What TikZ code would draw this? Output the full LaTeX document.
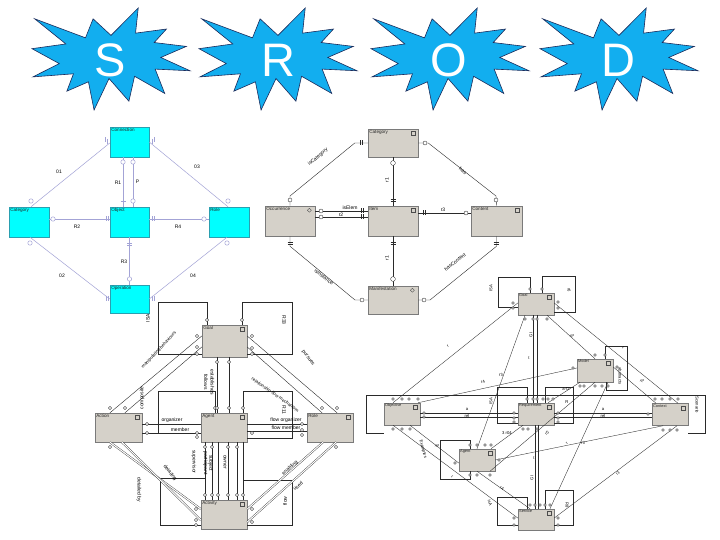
\documentclass[tikz,border=0pt]{standalone}
\usepackage{fontspec}
\setmainfont{Liberation Sans}
\usetikzlibrary{calc}
\definecolor{starfill}{HTML}{12AEEF}
\definecolor{starline}{HTML}{1B2A5A}
\definecolor{cyanbox}{HTML}{00FFFF}
\definecolor{cyanedge}{HTML}{2A9FB0}
\definecolor{lav}{HTML}{A3A3D6}
\definecolor{gfill}{HTML}{D5D1C9}
\definecolor{gedge}{HTML}{7A7A7A}
\definecolor{ink}{HTML}{2A2A2A}
\newcommand\boom[4]{\draw[starst, shift={(#1,#2)}, xscale=#3/216, yscale=#4/216]
 (108,58) -- (145.22,0) -- (141.55,53.25) -- (183.80,44.57) -- (167.02,73.15) -- (210.97,81.37) -- (176.07,104.75) -- (216,132.90) -- (168.37,129.42) -- (181.45,180.95) -- (140.20,144.57) -- (132.47,197.37) -- (105.32,149.35) -- (84.85,216) -- (77.15,156.27) -- (47.62,176.17) -- (56.67,139.37) -- (1.35,145.87) -- (37.22,117.75) -- (0,86.15) -- (46.27,76.17) -- (3.70,22.95) -- (73.12,63.20) -- (83.52,22.95) -- cycle;}
\newcommand\sqi[1]{\draw[ico] ([xshift=-7pt,yshift=-2.5pt]#1.north east) rectangle ++(4,4);}
\newcommand\dmi[1]{\draw[ico] ([xshift=-6pt,yshift=-2.5pt]#1.north east) -- ++(2,2) -- ++(-2,2) -- ++(-2,-2) -- cycle;}
\begin{document}
\begin{tikzpicture}[x=1pt,y=-1pt,
 starst/.style={fill=starfill, draw=starline, line width=0.6pt, line join=miter},
 sletter/.style={text=white, font=\fontsize{47}{47}\selectfont, inner sep=0pt},
 cbox/.style={draw=cyanedge, fill=cyanbox, line width=0.5pt, inner sep=0pt},
 gbox/.style={draw=gedge, fill=gfill, line width=0.5pt, inner sep=0pt},
 btxt/.style={anchor=north west, inner sep=1.4pt, font=\fontsize{4.6}{5}\selectfont, text=black!85},
 dtxt/.style={anchor=north west, inner sep=1.2pt, font=\fontsize{3.9}{4.2}\selectfont, text=black!85},
 lab/.style={inner sep=0.3pt, font=\fontsize{5}{5.4}\selectfont, text=black},
 slab/.style={inner sep=0.3pt, font=\fontsize{4.2}{4.5}\selectfont, text=black},
 lavl/.style={draw=lav, line width=0.5pt},
 ln/.style={draw=ink, line width=0.4pt},
 dl/.style={draw=ink, line width=0.35pt},
 dbl/.style={draw=ink, line width=0.35pt, double=white, double distance=1.1pt},
 mk/.style={draw=ink, fill=white, line width=0.35pt},
 lmk/.style={draw=lav, fill=white, line width=0.5pt},
 ico/.style={draw=black!70, line width=0.35pt, fill=gfill}]
\useasboundingbox (0,0) rectangle (720,540);
\fill[white] (0,0) rectangle (720,540);

% ---------- stars ----------
\boom{32}{8}{158}{102}
\boom{199}{8}{158}{102}
\boom{371}{8}{158}{102}
\boom{540}{8}{158}{102}
\node[sletter] (ls) at (110,60) {S};
\node[sletter] (lr) at (278,60) {R};
\node[sletter] (lo) at (449,60) {O};
\node[sletter] (ld) at (618,60) {D};

% ---------- S diagram ----------
\node[cbox, minimum width=39pt, minimum height=30pt] (sconn) at (129.5,142) {};
\node[cbox, minimum width=40pt, minimum height=30pt] (scat) at (29,222) {};
\node[cbox, minimum width=39pt, minimum height=30pt] (sobj) at (129.5,222) {};
\node[cbox, minimum width=40pt, minimum height=30pt] (srole) at (229,222) {};
\node[cbox, minimum width=39pt, minimum height=28pt] (sop) at (129.5,299) {};
\node[btxt] (sconnt) at (sconn.north west) {Connection};
\node[btxt] (scatt) at (scat.north west) {Category};
\node[btxt] (sobjt) at (sobj.north west) {Object};
\node[btxt] (srolet) at (srole.north west) {Role};
\node[btxt] (sopt) at (sop.north west) {Operation};
\draw[lavl] ([yshift=-1pt]sconn.west) -- ([xshift=2pt]scat.north);
\draw[lavl] (sconn.east) -- ([xshift=-1pt]srole.north);
\draw[lavl] ([xshift=-6.5pt]sconn.south) -- ([xshift=-6.5pt]sobj.north);
\draw[lavl] ([xshift=3.5pt]sconn.south) -- ([xshift=3.5pt]sobj.north);
\draw[lavl] ([yshift=3pt]scat.east) -- ([yshift=3pt]sobj.west);
\draw[lavl] ([yshift=3pt]sobj.east) -- ([yshift=3pt]srole.west);
\draw[lavl] (sobj.south) -- (sop.north);
\draw[lavl] ([xshift=1pt]scat.south) -- (sop.west);
\draw[lavl] ([xshift=-2pt]srole.south) -- (sop.east);
\foreach \x/\y in {31/201,228/201,123/162,133/162,133/201,53/219,204/219,129.5/279,30/243,227/243}
  \draw[lmk] (\x,\y) circle[radius=2.2];
\foreach \x/\y in {105/140,107/141.5,154/140,152/141.5,106/219,108/219,152/219,154/219,106/298,108/298,152/298,154/298}
  \draw[lavl] (\x,\y-2.5) -- (\x,\y+2.5);
\foreach \x/\y in {123/201,129.5/243,129.5/245}
  \draw[lavl] (\x-2.5,\y) -- (\x+2.5,\y);
\node[lab] (s1) at (59,172) {01};
\node[lab] (s2) at (197,167) {03};
\node[lab] (s3) at (118,183) {R1};
\node[lab] (s4) at (137.5,182) {P};
\node[lab] (s5) at (77,227) {R2};
\node[lab] (s6) at (178,227) {R4};
\node[lab] (s7) at (124,262) {R3};
\node[lab] (s8) at (62,276) {02};
\node[lab] (s9) at (193,276) {04};

% ---------- R diagram ----------
\node[gbox, minimum width=50pt, minimum height=28pt] (rcat) at (393,143) {};
\node[gbox, minimum width=50pt, minimum height=30pt] (ritem) at (393,221) {};
\node[gbox, minimum width=50pt, minimum height=30pt] (rocc) at (290,221) {};
\node[gbox, minimum width=51pt, minimum height=30pt] (rcont) at (496.5,221) {};
\node[gbox, minimum width=50pt, minimum height=28pt] (rman) at (393,300) {};
\node[btxt] (rcatt) at (rcat.north west) {Category};
\node[btxt] (ritemt) at (ritem.north west) {Item};
\node[btxt] (rocct) at (rocc.north west) {Occurrence};
\node[btxt] (rcontt) at (rcont.north west) {Content};
\node[btxt] (rmant) at (rman.north west) {Manifestation};
\sqi{rcat}\sqi{ritem}\sqi{rcont}\dmi{rocc}\dmi{rman}
\draw[ln] (rcat.west) -- ++(-13,0) -- (290,196) -- (rocc.north);
\draw[ln] (rcat.east) -- ++(10,0) -- (496,196) -- (rcont.north);
\draw[ln] (rcat.south) -- (ritem.north);
\draw[ln, line width=0.7pt] ([yshift=10pt]rocc.east) -- ([yshift=10pt]ritem.west);
\draw[ln, line width=0.7pt] ([yshift=4pt]rocc.east) -- ([yshift=4pt]ritem.west);
\draw[ln] ([yshift=8pt]ritem.east) -- ([yshift=8pt]rcont.west);
\draw[ln] (ritem.south) -- (rman.north);
\draw[ln] (rocc.south) -- ++(0,10) -- (355,300) -- (rman.west);
\draw[ln] (rcont.south) -- ++(0,10) -- (430,300) -- (rman.east);
\foreach \x/\y in {290/200,496/200,425/143,321/211,321/217,466/213,362/300,424/300}
  \draw[mk] (\x,\y) circle[radius=2];
\draw[mk] (393,163) circle[radius=2.4];
\draw[mk] (393,279) circle[radius=2.4];
\foreach \x/\y in {360/143,362/143,361/211,363/211,361/217,363/217,423/213,425/213}
  \draw[ln] (\x,\y-2.5) -- (\x,\y+2.5);
\foreach \x/\y in {393/199,393/201,393/242,393/244,290/242,290/244,496/242,496/244}
  \draw[ln] (\x-2.5,\y) -- (\x+2.5,\y);
\node[lab, rotate=40] (r1) at (318,157) {isCategory};
\node[lab, rotate=-38] (r2) at (463,171) {has};
\node[lab, rotate=90] (r3) at (387,180) {r1};
\node[lab] (r4) at (350,208) {isElem};
\node[lab] (r5) at (341,214.5) {r2};
\node[lab] (r6) at (443,209.5) {r3};
\node[lab, rotate=90] (r7) at (387,258) {r1};
\node[lab, rotate=-38] (r8) at (324,277) {isInstance};
\node[lab, rotate=38] (r9) at (455,262) {hasContent};

% ---------- O diagram ----------
\node[gbox, minimum width=45pt, minimum height=32pt] (ogoal) at (224.5,341) {};
\node[gbox, minimum width=47pt, minimum height=29pt] (oact) at (118.5,427.5) {};
\node[gbox, minimum width=46pt, minimum height=29pt] (oagt) at (224,427.5) {};
\node[gbox, minimum width=46pt, minimum height=29pt] (orole) at (330,427.5) {};
\node[gbox, minimum width=46pt, minimum height=29pt] (oactv) at (224,514.5) {};
\node[btxt] (ogoalt) at (ogoal.north west) {Goal};
\node[btxt] (oactt) at (oact.north west) {Action};
\node[btxt] (oagtt) at (oagt.north west) {Agent};
\node[btxt] (orolet) at (orole.north west) {Role};
\node[btxt] (oactvt) at (oactv.north west) {Activity};
\sqi{ogoal}\sqi{oact}\sqi{oagt}\sqi{orole}\sqi{oactv}
% loops
\draw[ln] ([xshift=-17.5pt]ogoal.north) -- (207,302) -- (158,302) -- (158,354) -- (ogoal.west |- 0,354);
\draw[ln] ([xshift=17.5pt]ogoal.north) -- (242,302) -- (292,302) -- (292,354) -- (ogoal.east |- 0,354);
\draw[ln] ([xshift=-9pt]oagt.north) -- (215,391) -- (158,391) -- (158,433) -- (oact.east |- 0,433);
\draw[ln] ([xshift=19pt]oagt.north) -- (243,391) -- (292,391) -- (292,438) -- (oagt.east |- 0,438);
\draw[ln] (oactv.west |- 0,525) -- (160,525) -- (160,478) -- (205,478);
\draw[ln] (243,480) -- (292,480) -- (292,525) -- (oactv.east |- 0,525);
% goal links
\draw[ln] (ogoal.west |- 0,336) -- ([xshift=-8.5pt]oact.north);
\draw[ln] (ogoal.west |- 0,347) -- ([xshift=6.5pt]oact.north);
\draw[ln] ([xshift=-7.5pt]ogoal.south) -- ([xshift=-7pt]oagt.north);
\draw[ln] ([xshift=4.5pt]ogoal.south) -- ([xshift=5pt]oagt.north);
\draw[ln] (ogoal.east |- 0,336) -- ([xshift=7pt]orole.north);
\draw[ln] (ogoal.east |- 0,347) -- ([xshift=-8pt]orole.north);
% row links
\draw[ln] (oact.east |- 0,424) -- (oagt.west |- 0,424);
\draw[ln, line width=0.6pt] (oact.east |- 0,433) -- (oagt.west |- 0,433);
\draw[ln] (oagt.east |- 0,424) -- (orole.west |- 0,424);
\draw[ln, line width=0.6pt] (oagt.east |- 0,431) -- (orole.west |- 0,431);
% agent to activity
\foreach \dx in {-19,-12,-6,4,13,19}
  \draw[ln] ([xshift=\dx pt]oagt.south) -- ([xshift=\dx pt]oactv.north);
% diagonals
\draw[dbl] ([xshift=-8.5pt]oact.south) -- (oactv.west |- 0,509);
\draw[dbl] ([xshift=3.5pt]oact.south) -- (oactv.west |- 0,520);
\draw[dbl] ([xshift=-7pt]orole.south) -- (oactv.east |- 0,509);
\draw[dbl] ([xshift=6pt]orole.south) -- (oactv.east |- 0,522);
\foreach \x/\y in {207/320,242/320,197/336,197/347,197/354,252/336,252/348,252/354,217/362,229/362,
  215/408,217/408,229/408,243/408,110/408,125/408,147/424,147/433,197/433,197/437,252/433,
  302/424,302/430,302/435,322/408,337/408,336/447,110/447,205/447,212/447,228/447,237/447,
  205/495,212/495,218/495,228/495,237/495,243/495,196/509,196/520,196/525,252/509,252/522}
  \draw[mk] (\x,\y) circle[radius=1.7];
\node[lab, rotate=90] (o1) at (148,318) {ISA};
\node[lab, rotate=-90] (o2) at (284,320) {R33};
\node[lab, rotate=47, font=\fontsize{4.5}{5}\selectfont] (o3) at (159,350) {manipulating behaviours};
\node[lab, rotate=90] (o4) at (142,398) {composite};
\node[lab, rotate=-90] (o5) at (206,382) {follows};
\node[lab, rotate=-90] (o6) at (212.5,382) {establishes};
\node[lab, rotate=-53] (o7) at (308,358) {pursues};
\node[lab, rotate=-35, font=\fontsize{4.5}{5}\selectfont] (o8) at (275,395) {relationship flow mechanism};
\node[lab, rotate=-90] (o9) at (284,410) {R11};
\node[lab] (o10) at (172,420.5) {organizer};
\node[lab] (o11) at (180,429.5) {member};
\node[lab] (o12) at (286,420.5) {flow organizer};
\node[lab] (o13) at (286,428) {flow member};
\node[lab, rotate=-90] (o14) at (194,462) {supervisor};
\node[lab, rotate=-90, align=center] (o15) at (208,463) {subject\\participant};
\node[lab, rotate=-90] (o16) at (225,462) {owner};
\node[lab, rotate=-52] (o17) at (170,473) {detailing};
\node[lab, rotate=-90] (o18) at (139,490) {detailed by};
\node[lab, rotate=40] (o19) at (290,468) {enabling};
\node[lab, rotate=40] (o20) at (298,486) {used};
\node[lab, rotate=90] (o21) at (285,501) {flow};

% ---------- D diagram ----------
\node[gbox, minimum width=36pt, minimum height=22pt] (dgoal) at (536,304) {};
\node[gbox, minimum width=36pt, minimum height=23pt] (dmodel) at (595,370.5) {};
\node[gbox, minimum width=36pt, minimum height=22pt] (dobj) at (402,414) {};
\node[gbox, minimum width=36pt, minimum height=22pt] (dreq) at (536,414) {};
\node[gbox, minimum width=36pt, minimum height=22pt] (dcont) at (670,414.5) {};
\node[gbox, minimum width=36pt, minimum height=22pt] (dagt) at (477,460) {};
\node[gbox, minimum width=36pt, minimum height=21pt] (dserv) at (536,519.5) {};
\node[dtxt] (dgoalt) at (dgoal.north west) {Goal};
\node[dtxt] (dmodelt) at (dmodel.north west) {Model};
\node[dtxt] (dobjt) at (dobj.north west) {Objective};
\node[dtxt] (dreqt) at (dreq.north west) {Requirement};
\node[dtxt] (dcontt) at (dcont.north west) {Context};
\node[dtxt] (dagtt) at (dagt.north west) {Agent};
\node[dtxt] (dservt) at (dserv.north west) {Service};
\sqi{dgoal}\sqi{dmodel}\sqi{dobj}\sqi{dreq}\sqi{dcont}\sqi{dagt}\sqi{dserv}
% frame
\draw[dl] (dobj.south west |- 0,433) -- (366,433) -- (366,395) -- (705,395) -- (705,433) -- (dcont.south east |- 0,433);
% loops
\draw[dl] ([xshift=-6pt]dgoal.north) -- (530,277) -- (498,277) -- (498,307) -- (dgoal.west |- 0,307);
\draw[dl] ([xshift=6pt]dgoal.north) -- (542,276) -- (575,276) -- (575,312) -- (dgoal.east |- 0,312);
\draw[dl] ([xshift=10pt]dmodel.north) -- (605,346) -- (627,346) -- (627,390) -- (606,390) -- ([xshift=11pt]dmodel.south);
\draw[dl] ([xshift=-9pt]dreq.north) -- (527,387) -- (497,387) -- (497,423) -- (dreq.west |- 0,423);
\draw[dl] ([xshift=9pt]dreq.north) -- (545,387) -- (573,387) -- (573,423) -- (dreq.east |- 0,423);
\draw[dl] ([xshift=-7pt]dagt.north) -- (470,440) -- (440,440) -- (440,479) -- (470,479) -- ([xshift=-7pt]dagt.south);
\draw[dl] ([xshift=-9pt]dserv.north) -- (527,497) -- (497,497) -- (497,525) -- (dserv.west |- 0,525);
\draw[dl] ([xshift=9pt]dserv.north) -- (545,490) -- (573,490) -- (573,525) -- (dserv.east |- 0,525);
% goal links
\draw[dl] (dgoal.west |- 0,303) -- ([xshift=-9pt]dobj.north);
\draw[dl] ([xshift=-11pt]dgoal.south) -- (dagt.north);
\draw[dl] ([xshift=-3pt]dgoal.south) -- ([xshift=-3pt]dreq.north);
\draw[dl] ([xshift=1pt]dgoal.south) -- ([xshift=1pt]dreq.north);
\draw[dl] ([xshift=11pt]dgoal.south) -- (dmodel.north);
\draw[dl] (dgoal.east |- 0,303) -- ([xshift=8pt]dcont.north);
% model links
\draw[dl] (dmodel.west |- 0,368) -- ([xshift=16pt]dobj.north);
\draw[dl] (dmodel.east |- 0,367) -- ([xshift=-14pt]dcont.north);
\draw[dl] ([xshift=-15pt]dmodel.south) -- ([xshift=12pt]dreq.north);
\draw[dl] (dmodel.south) -- ([xshift=13pt]dagt.south);
\draw[dl] ([xshift=13pt]dmodel.south) -- ([xshift=14pt]dserv.north);
% row links
\draw[dl] (dobj.east |- 0,413) -- (dreq.west |- 0,413);
\draw[dl] (dobj.east |- 0,417) -- (dreq.west |- 0,417);
\draw[dl] (dreq.east |- 0,413) -- (dcont.west |- 0,413);
\draw[dl] (dreq.east |- 0,417) -- (dcont.west |- 0,417);
% lower links
\draw[dl] ([xshift=-9pt]dobj.south) -- (dserv.west |- 0,518);
\draw[dl] ([xshift=8pt]dobj.south) -- (dagt.west |- 0,463);
\draw[dl] ([xshift=14pt]dagt.north) -- ([xshift=-13pt]dreq.south);
\draw[dl] (dagt.east) -- ([xshift=-7pt]dcont.south);
\draw[dl] (dagt.south) -- ([xshift=-6pt]dserv.north);
\draw[dl] ([xshift=-1pt]dreq.south) -- ([xshift=-1pt]dserv.north);
\draw[dl] ([xshift=2pt]dreq.south) -- ([xshift=2pt]dserv.north);
\draw[dl] ([xshift=7pt]dcont.south) -- (dserv.east |- 0,518);
\foreach \x/\y in {530/289,542/289,513/303,513/308,558/302,558/308,525/319,533/319,537/319,547/319,
  595/355,605/355,573/368,617/367,580/386,584/386,595/386,602/386,608/386,
  393/399,402/399,409/399,418/399,424/413,424/417,393/429,402/429,410/429,
  527/399,533/399,537/399,543/399,548/399,553/399,514/413,514/418,514/422,558/413,558/418,558/422,
  523/429,528/429,537/429,655/399,662/399,670/399,678/399,648/414,663/430,670/430,677/430,
  470/445,477/445,485/445,491/445,455/463,499/460,470/475,477/475,490/475,
  530/505,535/505,540/505,545/505,550/505,514/518,514/525,558/518,558/525}
  \draw[mk] (\x,\y) circle[radius=1.3];
\node[slab, rotate=90] (d1) at (491,288) {ISA};
\node[slab, rotate=-90] (d2) at (569,290) {r6};
\node[slab, rotate=37] (d3) at (448,346) {r};
\node[slab] (d4) at (529,358) {t};
\node[slab, rotate=90] (d5) at (531,335) {GI};
\node[slab, rotate=-35] (d6) at (572,336) {r2};
\node[slab, rotate=-35] (d7) at (623,348) {r};
\node[slab, rotate=12] (d8) at (483,382) {r4};
\node[slab, rotate=12] (d8b) at (501,375) {r3};
\node[slab, rotate=-90] (d9) at (620,376) {abstracts};
\node[slab, rotate=-35] (d10) at (642,381) {r2};
\node[slab] (d11) at (566,388.5) {a-f2};
\node[slab, rotate=90] (d12) at (491,401) {ISA};
\node[slab] (d13) at (567,402) {R};
\node[slab] (d14) at (467,409.5) {a};
\node[slab] (d15) at (467,416) {rel};
\node[slab] (d16) at (603,409.5) {a};
\node[slab] (d17) at (603,416) {rel};
\node[slab, rotate=-90] (d18) at (697,405) {Scenario};
\node[slab] (d19) at (507,433) {3 r04};
\node[slab, rotate=35] (d20) at (547,433) {r5};
\node[slab, rotate=60] (d21) at (567,443) {r};
\node[slab, rotate=10] (d22) at (583,443) {r3};
\node[slab, rotate=-35] (d23) at (437,446) {r2};
\node[slab, rotate=-75] (d24) at (423,449) {Examples};
\node[slab, rotate=-35] (d25) at (452,477) {r};
\node[slab, rotate=-70] (d26) at (490,503) {isA};
\node[slab, rotate=-30] (d27) at (502,488) {r4};
\node[slab, rotate=90] (d28) at (532,478) {GI};
\node[slab] (d29) at (534,458) {t};
\node[slab, rotate=35] (d30) at (618,473) {r1};
\node[slab, rotate=-90] (d31) at (567,505) {R8};
\end{tikzpicture}
\end{document}
